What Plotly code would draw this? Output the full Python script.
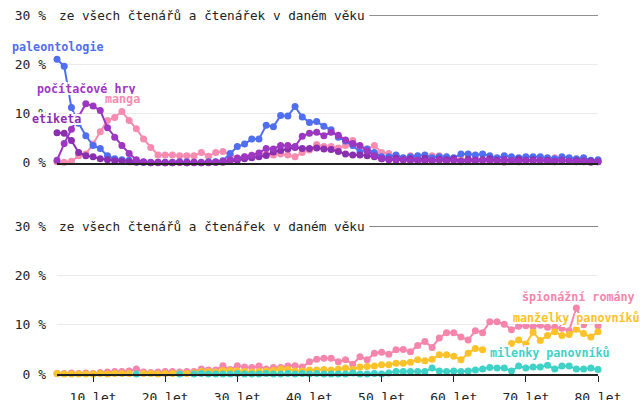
import plotly.graph_objects as go

ages = list(range(5, 81))

# Top panel series (% of readers of given age)
paleontologie = [21.0, 19.6, 11.2, 8.0, 5.5, 3.5, 2.9, 1.4, 0.8, 0.6,
                 0.5, 0.2, 0.1, 0.1, 0.1, 0.1, 0.1, 0.2, 0.2, 0.1,
                 0.1, 0.2, 0.2, 0.4, 1.9, 3.3, 3.8, 4.8, 4.8, 7.6,
                 7.3, 9.6, 9.5, 11.4, 9.3, 8.2, 8.4, 7.4, 6.7, 5.2,
                 4.4, 3.5, 2.2, 2.8, 2.1, 1.2, 1.2, 1.6, 1.0, 1.2,
                 1.4, 1.6, 1.0, 1.2, 1.2, 1.0, 1.8, 1.8, 1.6, 1.8,
                 1.4, 1.0, 1.4, 1.2, 1.0, 1.2, 1.2, 1.2, 1.0, 0.8,
                 1.2, 1.0, 0.8, 1.0, 0.5, 0.6]
pocitacove_hry = [0.5, 3.9, 6.8, 9.3, 12.0, 11.5, 10.6, 7.1, 5.2, 3.5,
                  1.9, 0.6, 0.2, 0.0, 0.0, 0.0, 0.0, 0.1, 0.0, 0.0,
                  0.0, 0.1, 0.1, 0.3, 0.6, 0.9, 1.2, 1.5, 2.0, 2.9,
                  2.8, 3.5, 3.5, 3.3, 5.4, 6.0, 6.2, 5.5, 6.2, 5.6,
                  4.6, 3.9, 3.5, 2.4, 1.4, 0.8, 0.6, 0.5, 0.6, 0.4,
                  0.5, 0.3, 0.4, 0.5, 0.3, 0.5, 0.2, 0.4, 0.3, 0.5,
                  0.4, 0.3, 0.5, 0.4, 0.2, 0.4, 0.3, 0.5, 0.3, 0.2,
                  0.4, 0.3, 0.2, 0.4, 0.1, 0.2]
manga = [0.2, 0.1, 0.3, 1.4, 1.8, 3.8, 6.3, 8.6, 9.2, 10.4,
         8.6, 6.9, 4.8, 3.1, 1.6, 1.6, 1.6, 1.4, 1.4, 1.4,
         2.1, 1.3, 2.1, 2.3, 1.6, 1.0, 1.2, 1.6, 1.8, 1.7,
         1.6, 1.8, 1.6, 1.2, 2.1, 2.6, 3.7, 3.3, 3.3, 3.0,
         3.5, 4.5, 3.3, 2.8, 3.5, 2.1, 1.9, 1.2, 0.8, 1.4,
         1.0, 0.8, 1.4, 1.4, 0.9, 0.8, 0.6, 0.6, 0.9, 0.5,
         0.4, 0.3, 0.1, 0.5, 0.4, 0.6, 0.3, 0.5, 0.4, 1.0,
         0.5, 0.6, 0.4, 0.3, 0.2, 0.3]
etiketa = [6.1, 6.0, 4.5, 2.1, 1.4, 1.2, 0.8, 0.6, 0.4, 0.3,
           0.2, 0.1, 0.1, 0.0, 0.1, 0.0, 0.0, 0.1, 0.0, 0.1,
           0.0, 0.0, 0.1, 0.1, 0.3, 0.5, 0.8, 1.0, 1.2, 1.5,
           2.2, 2.5, 2.8, 3.1, 2.9, 2.9, 3.0, 2.8, 2.7, 2.3,
           1.8, 1.6, 1.6, 1.4, 1.2, 0.8, 0.7, 0.9, 0.6, 0.8,
           0.5, 0.9, 0.4, 0.7, 0.6, 0.8, 0.3, 0.7, 0.5, 0.6,
           0.8, 0.5, 0.6, 0.4, 0.7, 0.5, 0.6, 0.4, 0.5, 0.3,
           0.5, 0.3, 0.4, 0.2, 0.3, 0.2]

# Bottom panel series
spionazni_romany = [0.1, 0.1, 0.2, 0.1, 0.2, 0.1, 0.3, 0.4, 0.5, 0.5,
                    0.6, 1.0, 0.4, 0.3, 0.4, 0.5, 0.5, 0.4, 0.5, 0.5,
                    1.0, 0.8, 0.8, 1.7, 0.9, 1.7, 1.4, 1.3, 1.6, 1.0,
                    1.3, 1.3, 1.6, 1.7, 1.4, 2.5, 3.0, 3.2, 3.2, 2.5,
                    2.9, 2.0, 3.5, 2.9, 4.2, 4.4, 4.0, 4.9, 5.0, 4.5,
                    5.8, 6.6, 5.4, 7.3, 8.4, 8.4, 7.5, 6.9, 8.8, 8.4,
                    10.6, 10.6, 10.1, 9.0, 9.7, 9.8, 9.6, 9.9, 9.5, 9.5,
                    9.3, 8.8, 13.4, 10.0, None, 9.8]
manzelky_panovniku = [0.1, 0.0, 0.0, 0.0, 0.0, 0.0, 0.1, 0.0, 0.1, 0.1,
                      0.1, None, 0.1, 0.1, 0.0, 0.1, 0.1, 0.1, 0.1, 0.2,
                      0.5, 0.5, 0.4, 0.7, 0.7, 0.6, 0.5, 0.4, 0.5, 0.6,
                      0.7, 1.0, 0.9, 0.6, 0.6, 0.8, 0.8, 0.9, 0.8, 1.0,
                      1.2, 0.9, 1.4, 1.5, 1.6, 1.9, 1.9, 2.2, 2.2, 2.4,
                      2.9, 2.7, 3.0, 3.9, 3.9, 3.6, 2.9, 4.2, 5.2, 4.9,
                      None, None, None, 6.2, 6.9, 6.1, 8.5, 6.8, 7.8, 8.6,
                      7.8, 8.0, 9.1, 8.2, 7.5, 8.6]
milenky_panovniku = [None, None, None, None, None, None, None, None, None, None,
                     None, 0.0, None, None, None, None, None, 0.0, None, 0.0,
                     0.1, 0.0, 0.0, 0.0, 0.0, 0.1, 0.0, 0.0, 0.0, 0.1,
                     0.0, 0.0, 0.1, 0.0, 0.1, 0.0, 0.1, 0.0, 0.0, 0.0,
                     0.0, 0.2, 0.0, 0.0, 0.1, 0.0, 0.2, 0.5, 0.5, 0.5,
                     0.5, 0.5, 1.2, 0.6, 0.5, 0.6, 0.5, 0.6, 0.8, 1.0,
                     1.3, 1.2, 1.2, 0.6, 1.6, 1.2, 1.4, 1.4, 1.8, 1.0,
                     1.6, 1.6, 1.0, 1.0, 1.2, 0.9]

x_ticks = [10, 20, 30, 40, 50, 60, 70, 80]
x_tick_labels = [f"{v} let" for v in x_ticks]
y_ticks = [0, 10, 20, 30]
y_tick_labels = [f"{v} %" for v in y_ticks]
subtitle = "ze všech čtenářů a čtenářek v daném věku"

C_BLUE = "#4f6ef0"
C_HRY = "#9d37c2"
C_ETI = "#8a2fb0"
C_MANGA = "#f78bb0"
C_SPION = "#f685ac"
C_MANZ = "#fcc22a"
C_MIL = "#3fd2c7"

FONT = "DejaVu Sans Mono"

top = [("manga", manga, C_MANGA),
       ("paleontologie", paleontologie, C_BLUE),
       ("etiketa", etiketa, C_ETI),
       ("počítačové hry", pocitacove_hry, C_HRY)]
bottom = [("špionážní romány", spionazni_romany, C_SPION),
          ("manželky panovníků", manzelky_panovniku, C_MANZ),
          ("milenky panovníků", milenky_panovniku, C_MIL)]

fig = go.Figure()
for name, vals, col in top:
    fig.add_trace(go.Scatter(x=ages, y=vals, mode="lines+markers", name=name,
                             line=dict(color=col, width=2),
                             marker=dict(color=col, size=7),
                             cliponaxis=False, xaxis="x", yaxis="y"))
for name, vals, col in bottom:
    fig.add_trace(go.Scatter(x=ages, y=vals, mode="lines+markers", name=name,
                             line=dict(color=col, width=2),
                             marker=dict(color=col, size=7),
                             cliponaxis=False, xaxis="x2", yaxis="y2"))

halo = ("2px 0 0 white, -2px 0 0 white, 0 2px 0 white, 0 -2px 0 white, "
        "2px 2px 0 white, -2px -2px 0 white, 2px -2px 0 white, -2px 2px 0 white")

X0, X1 = 5, 80


def to_paper(age):
    return (age - X0) / (X1 - X0)


def lab(text, age, y, col, yref):
    return dict(text=f"<b>{text}</b>", x=to_paper(age), y=y, xref="paper", yref=yref,
                xanchor="left", yanchor="middle", showarrow=False,
                font=dict(family=FONT, size=11.7, color=col, shadow=halo))


annotations = [
    lab("paleontologie", -1.5, 23.5, C_BLUE, "y"),
    lab("počítačové hry", 1.9, 14.9, C_HRY, "y"),
    lab("manga", 11.4, 12.9, C_MANGA, "y"),
    lab("etiketa", 1.2, 8.8, C_ETI, "y"),
    lab("špionážní romány", 69.2, 15.7, C_SPION, "y2"),
    lab("manželky panovníků", 68.0, 11.4, C_MANZ, "y2"),
    lab("milenky panovníků", 64.7, 4.3, C_MIL, "y2"),
]
shapes = []
for xr, yr in (("x", "y"), ("x2", "y2")):
    annotations.append(dict(text=subtitle, x=5, y=30, xref=xr, yref=yr,
                            xanchor="left", yanchor="middle", showarrow=False,
                            bgcolor="white", borderpad=1,
                            font=dict(family=FONT, size=12.7, color="#222")))
    shapes.append(dict(type="line", xref=xr, yref=yr, x0=48.3, x1=80, y0=30, y1=30,
                       line=dict(color="#222", width=1)))

yax = dict(range=[0, 30], tickvals=y_ticks, ticktext=y_tick_labels,
           showgrid=True, gridcolor="#ebebeb", gridwidth=1, zeroline=False,
           ticks="", ticklabelstandoff=10, showline=False, automargin=False,
           tickfont=dict(family=FONT, size=13, color="#222"), fixedrange=True)
xax = dict(range=[X0, X1], tickvals=x_ticks, ticktext=x_tick_labels,
           showgrid=False, zeroline=False, showline=True, linecolor="#222",
           linewidth=1.5, automargin=False,
           tickfont=dict(family=FONT, size=13, color="#222"))

fig.update_layout(
    width=640, height=400,
    margin=dict(l=57, r=42, t=15, b=26, autoexpand=False),
    paper_bgcolor="white", plot_bgcolor="white",
    showlegend=False,
    xaxis=dict(xax, domain=[0, 1], anchor="y", showticklabels=False, ticks=""),
    yaxis=dict(yax, domain=[0.5884, 1], anchor="x"),
    xaxis2=dict(xax, domain=[0, 1], anchor="y2", ticks="outside", ticklen=6,
                tickcolor="#222", tickwidth=1, ticklabelstandoff=5),
    yaxis2=dict(yax, domain=[0, 0.4116], anchor="x2"),
    annotations=annotations,
    shapes=shapes,
)

fig.write_html("out.html")
